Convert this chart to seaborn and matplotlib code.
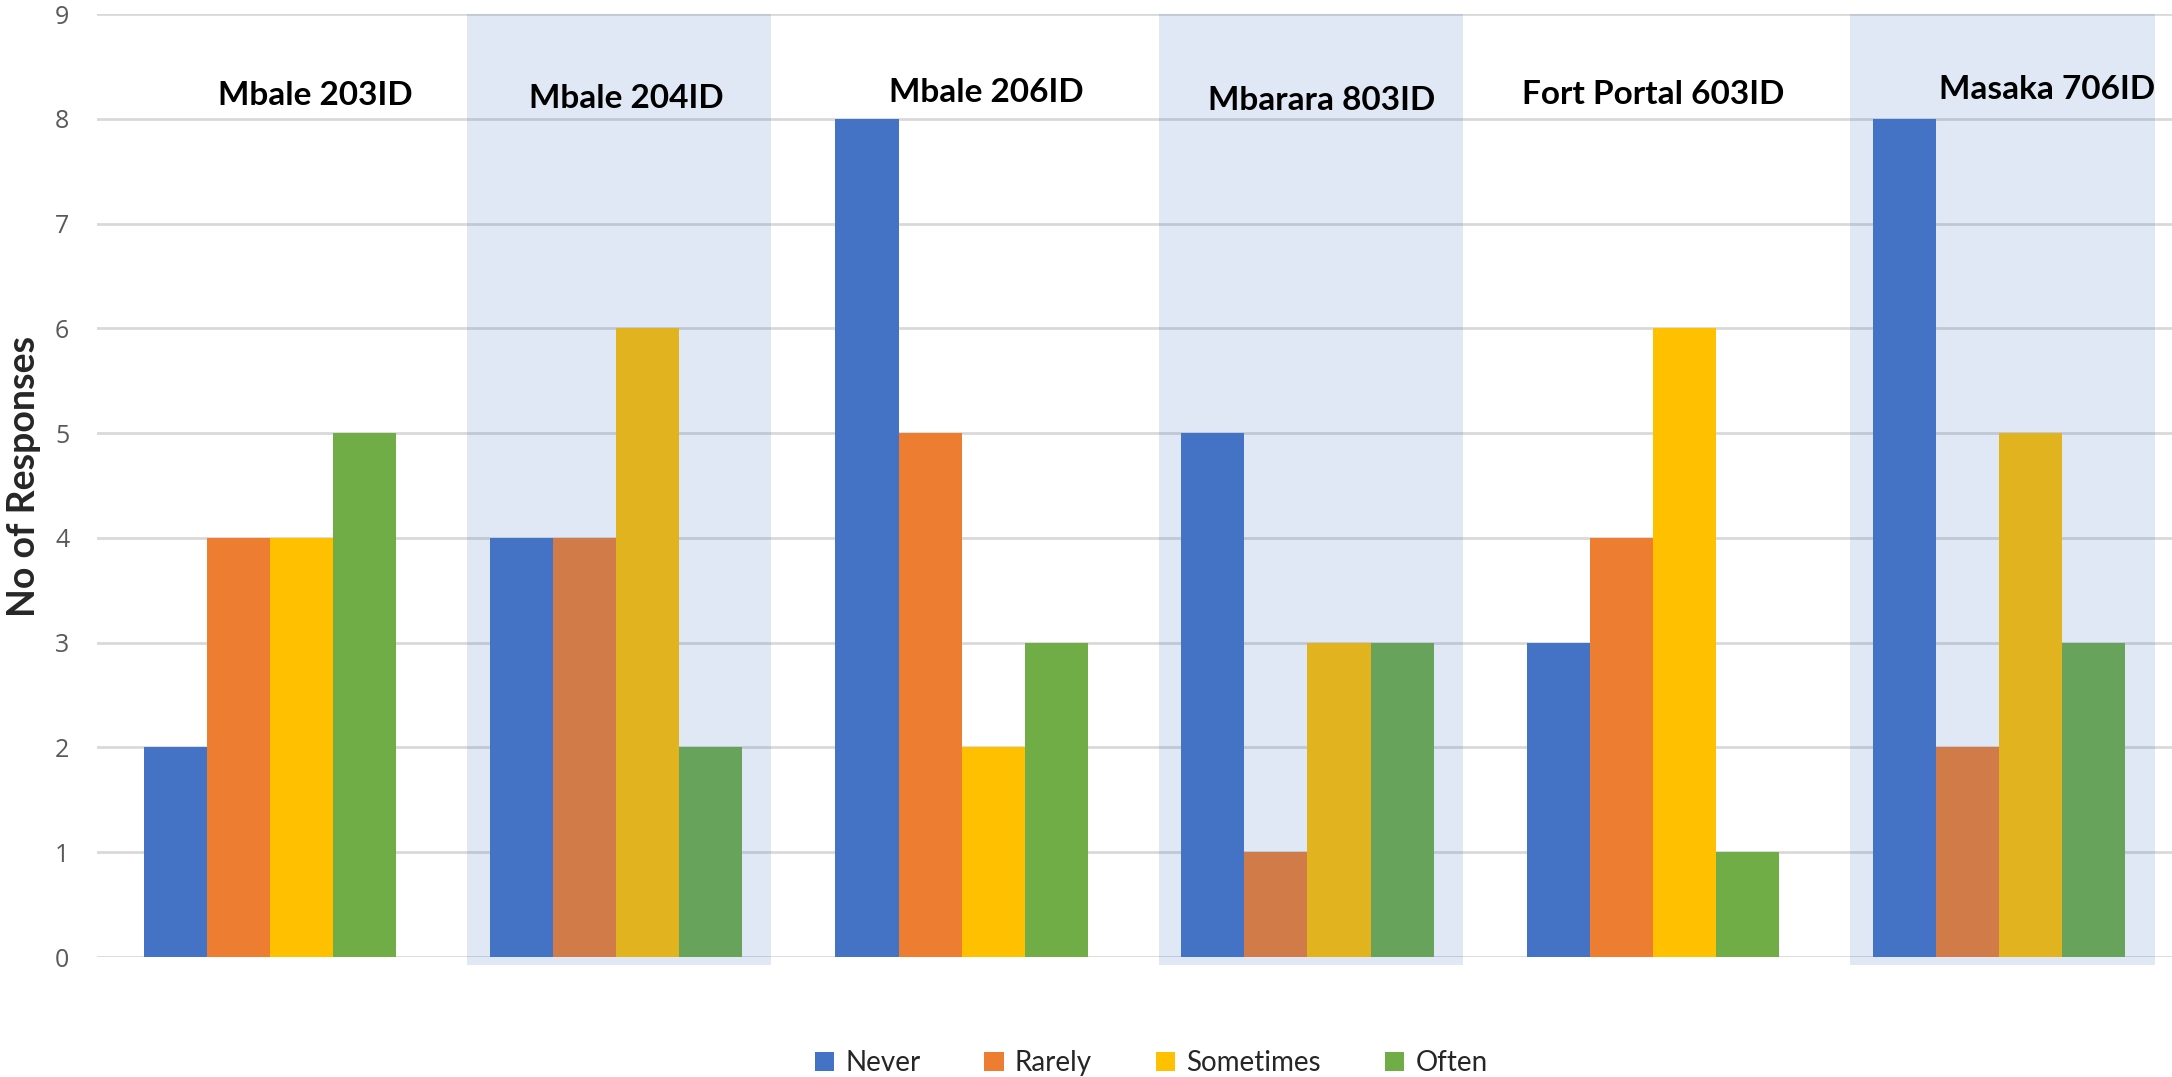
import pandas as pd
import matplotlib.pyplot as plt
import seaborn as sns
from matplotlib.patches import Rectangle

# chart data
sites = ["Mbale 203ID", "Mbale 204ID", "Mbale 206ID", "Mbarara 803ID", "Fort Portal 603ID", "Masaka 706ID"]
responses = ["Never", "Rarely", "Sometimes", "Often"]
never = [2, 4, 8, 5, 3, 8]
rarely = [4, 4, 5, 1, 4, 2]
sometimes = [4, 6, 2, 3, 6, 5]
often = [5, 2, 3, 3, 1, 3]
y_ticks = [0, 1, 2, 3, 4, 5, 6, 7, 8, 9]

colors = ["#4472C4", "#ED7D31", "#FFC000", "#70AD47"]

# build long table for seaborn
rows = []
for resp, vals in zip(responses, [never, rarely, sometimes, often]):
    for site, v in zip(sites, vals):
        rows.append({"Site": site, "Response": resp, "Count": v})
df = pd.DataFrame(rows)

sns.set_style("white")
plt.rcParams["font.family"] = ["Lato", "DejaVu Sans"]

fig = plt.figure(figsize=(21.72, 10.77), dpi=100)
ax = fig.add_axes([0.0447, 0.1114, 0.9553, 0.8756])

sns.barplot(data=df, x="Site", y="Count", hue="Response", order=sites,
            hue_order=responses, palette=colors, saturation=1, width=0.73,
            gap=0, linewidth=0, ax=ax, zorder=2)

ax.set_xlim(-0.5, 5.5)
ax.set_ylim(0, 9)
ax.set_yticks(y_ticks)
ax.set_yticklabels([str(t) for t in y_ticks], color="#595959", fontsize=18,
                   family=["Open Sans", "DejaVu Sans"])
ax.tick_params(axis="y", length=0, pad=20)
ax.set_xticks([])
ax.set_xlabel("")
ax.set_ylabel("No of Responses", fontsize=27, fontweight="bold")
ax.yaxis.set_label_coords(-0.027, 0.51)
ax.yaxis.grid(True, color="#D9D9D9", linewidth=2, zorder=0)
ax.set_axisbelow(True)
for s in ax.spines.values():
    s.set_visible(False)

# shaded panels over every second site
for i in [1, 3, 5]:
    left = i - 0.43
    right = min(i + 0.45, 5.49)
    ax.add_patch(Rectangle((left, -0.08), right - left, 9.08, facecolor="#4472C4",
                           alpha=0.16, edgecolor="none", zorder=3, clip_on=False))

# site titles inside the plot
title_nudge = [0.13, 0.03, 0.07, 0.04, 0.0, 0.14]
title_y = [8.22, 8.19, 8.25, 8.17, 8.23, 8.28]
for i, site in enumerate(sites):
    ax.text(i + title_nudge[i], title_y[i], site, ha="center", va="center",
            fontsize=24, fontweight="bold", color="black", zorder=5)

sns.move_legend(ax, "lower center", bbox_to_anchor=(0.508, -0.153), ncol=4,
                frameon=False, title=None, fontsize=20, handlelength=0.7,
                handleheight=0.7, handletextpad=0.4, columnspacing=2.3)

fig.savefig("out.png", dpi=100)
